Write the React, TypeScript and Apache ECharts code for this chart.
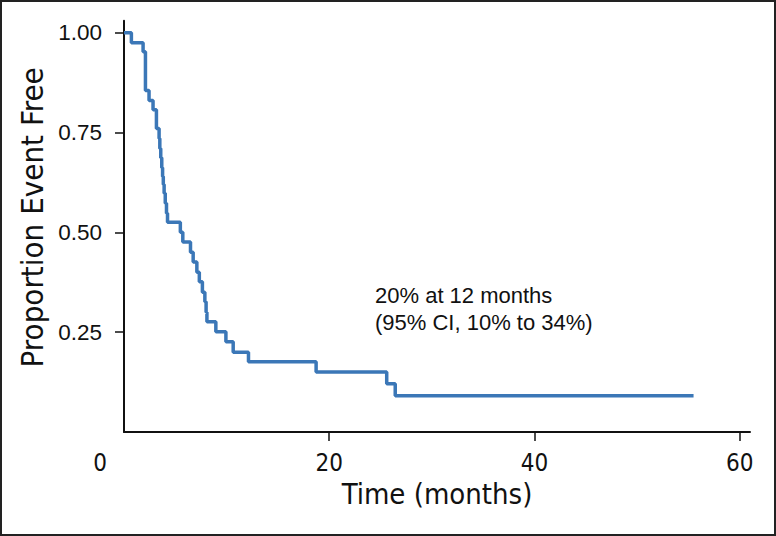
import React, { useEffect, useRef } from "react";
import * as echarts from "echarts";

// Kaplan–Meier estimate: event times (months) and survival after each step
const times = [0, 0.72, 1.86, 2.09, 2.44, 2.83, 3.16, 3.42, 3.49, 3.58, 3.68, 3.76, 3.83, 3.91, 4.02, 4.14, 4.24, 5.49, 5.73, 6.48, 6.74, 7.1, 7.34, 7.64, 7.88, 8.0, 8.08, 8.95, 9.93, 10.64, 12.13, 18.72, 25.6, 26.43, 55.5];
const survival = [1.0, 0.975, 0.952, 0.855, 0.83, 0.807, 0.76, 0.735, 0.71, 0.687, 0.662, 0.64, 0.62, 0.598, 0.573, 0.548, 0.525, 0.5, 0.476, 0.45, 0.426, 0.4, 0.376, 0.35, 0.326, 0.3, 0.276, 0.251, 0.226, 0.2, 0.176, 0.15, 0.121, 0.091, 0.091];

const yTicks = [0.25, 0.5, 0.75, 1.0];
const xTicks = [20, 40, 60];
const xLabels = [0, 20, 40, 60];
const annotation = ["20% at 12 months", "(95% CI, 10% to 34%)"];

const NARROW = '"DejaVu Sans Condensed", "Liberation Sans", sans-serif';
const SANS = '"Liberation Sans", Arial, sans-serif';

export default function App() {
  const ref = useRef<HTMLDivElement>(null);
  useEffect(() => {
    if (!ref.current) return;
    const chart = echarts.init(ref.current, null, { renderer: "svg" });
    const data = times.map((t, i) => [t, survival[i]]);
    chart.setOption({
      animation: false,
      backgroundColor: "#ffffff",
      grid: { left: 124, right: 26, top: 20.7, bottom: 104, containLabel: false, outerBoundsMode: "none" },
      xAxis: {
        type: "value",
        min: 0,
        max: 61,
        name: "Time (months)",
        nameLocation: "middle",
        nameGap: 46,
        nameTextStyle: { fontFamily: NARROW, fontSize: 29, color: "#111" },
        axisLine: { show: true, lineStyle: { color: "#111", width: 2 } },
        axisTick: { show: true, length: 9, customValues: xTicks, lineStyle: { color: "#111", width: 1.5 } },
        axisLabel: {
          customValues: xLabels,
          margin: 19,
          fontFamily: NARROW,
          fontSize: 24,
          color: "#111",
          formatter: (v: number) => (v === 0 ? "{z|0}" : String(v)),
          rich: { z: { fontFamily: NARROW, fontSize: 24, color: "#111", padding: [0, 48, 0, 0] } },
        },
        splitLine: { show: false },
      },
      yAxis: {
        type: "value",
        min: 0,
        max: 1.03,
        name: "Proportion Event Free",
        nameLocation: "middle",
        nameGap: 76,
        nameTextStyle: { fontFamily: NARROW, fontSize: 31, color: "#111", padding: [0, 0, 0, 18] },
        axisLine: { show: true, lineStyle: { color: "#111", width: 2 } },
        axisTick: { show: true, length: 9, customValues: yTicks, lineStyle: { color: "#111", width: 1.5 } },
        axisLabel: {
          customValues: yTicks,
          margin: 22,
          fontFamily: SANS,
          fontSize: 22.5,
          color: "#111",
          formatter: (v: number) => v.toFixed(2),
        },
        splitLine: { show: false },
      },
      series: [
        {
          type: "line",
          step: "end",
          data,
          showSymbol: false,
          symbol: "none",
          lineStyle: { color: "#3b77b7", width: 3.5 },
        },
      ],
      graphic: [
        {
          type: "rect",
          shape: { x: 1, y: 1, width: 774, height: 534 },
          style: { fill: "none", stroke: "#222", lineWidth: 2 },
          silent: true,
        },
        {
          type: "text",
          x: 375,
          y: 282,
          style: {
            text: annotation.join("\n"),
            fontFamily: SANS,
            fontSize: 22,
            lineHeight: 27,
            fill: "#111",
          },
        },
      ],
    });
    return () => chart.dispose();
  }, []);
  return <div ref={ref} style={{ position: "fixed", left: 0, top: 0, width: 776, height: 536 }} />;
}
